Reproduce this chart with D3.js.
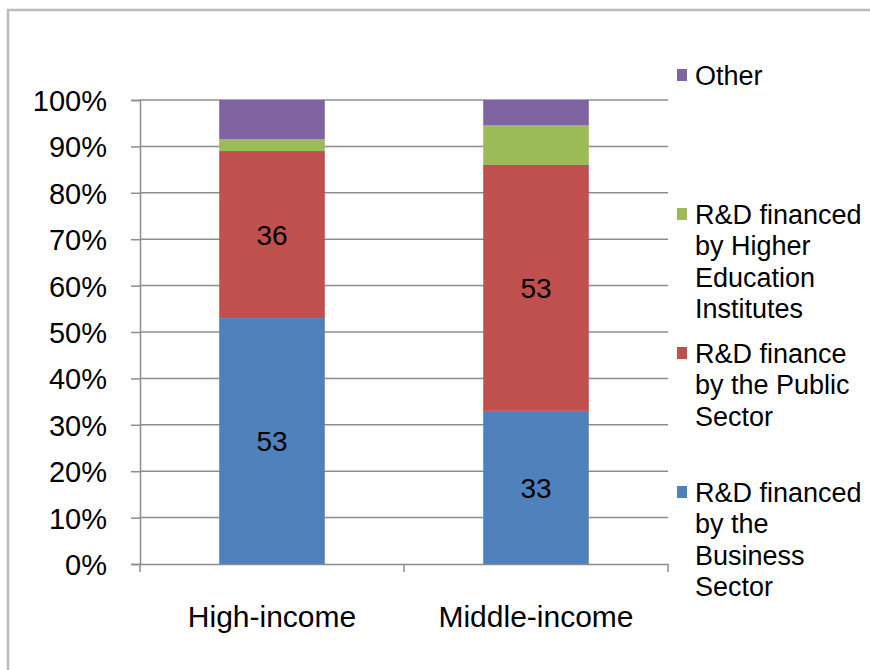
<!DOCTYPE html>
<html>
<head>
<meta charset="utf-8">
<script src="https://cdn.jsdelivr.net/npm/d3@7"></script>
<style>
  body { margin: 0; background: #fff; }
  text { font-family: "Liberation Sans", Arial, sans-serif; fill: #000; }
</style>
</head>
<body>
<script>
var categories = ["High-income", "Middle-income"];
var seriesNames = ["business", "public", "higher", "other"];
var business = [53, 33];
var publicSector = [36, 53];
var higherEd = [2.5, 8.5];
var other = [8.5, 5.5];
var yTicks = [0, 10, 20, 30, 40, 50, 60, 70, 80, 90, 100];
var colors = ["#4F81BD", "#C0504D", "#9BBB59", "#8064A2"];
// legend entries, top to bottom
var legendItems = [
  { key: "other", lines: ["Other"] },
  { key: "higher", lines: ["R&D financed", "by Higher", "Education", "Institutes"] },
  { key: "public", lines: ["R&D finance", "by the Public", "Sector"] },
  { key: "business", lines: ["R&D financed", "by the", "Business", "Sector"] }
];

var rows = categories.map(function(c, i) {
  return { cat: c, business: business[i], public: publicSector[i], higher: higherEd[i], other: other[i] };
});

var svg = d3.select("body").append("svg")
  .attr("width", 870)
  .attr("height", 670);

// outer frame
svg.append("rect")
  .attr("x", 8).attr("y", 10)
  .attr("width", 900).attr("height", 700)
  .style("fill", "none")
  .style("stroke", "#bcbcbc")
  .style("stroke-width", 2.5);

var plotLeft = 140, plotRight = 668, plotTop = 100, plotBottom = 564;
var gray = "#8c8c8c";

var x = d3.scaleBand()
  .domain(categories)
  .range([plotLeft, plotRight])
  .paddingInner(0.6)
  .paddingOuter(0.3);

var y = d3.scaleLinear()
  .domain([0, 100])
  .range([plotBottom, plotTop]);

var color = d3.scaleOrdinal().domain(seriesNames).range(colors);

// gridlines
svg.append("g").selectAll("line")
  .data(yTicks.filter(function(d) { return d > 0; }))
  .enter().append("line")
  .attr("x1", plotLeft).attr("x2", plotRight)
  .attr("y1", function(d) { return y(d); })
  .attr("y2", function(d) { return y(d); })
  .style("stroke", gray)
  .style("stroke-width", 1.5);

var stack = d3.stack().keys(seriesNames);
var layers = stack(rows);

svg.append("g").selectAll("g.layer")
  .data(layers)
  .enter().append("g")
  .attr("class", "layer")
  .style("fill", function(d) { return color(d.key); })
  .selectAll("rect")
  .data(function(d) { return d; })
  .enter().append("rect")
  .attr("x", function(d) { return x(d.data.cat); })
  .attr("width", x.bandwidth())
  .attr("y", function(d) { return y(d[1]); })
  .attr("height", function(d) { return y(d[0]) - y(d[1]); });

// data labels for business and public
layers.filter(function(l) { return l.key == "business" || l.key == "public"; })
  .forEach(function(l) {
    svg.append("g").selectAll("text")
      .data(l)
      .enter().append("text")
      .attr("x", function(d) { return x(d.data.cat) + x.bandwidth() / 2; })
      .attr("y", function(d) { return (y(d[0]) + y(d[1])) / 2; })
      .attr("dy", "0.36em")
      .attr("text-anchor", "middle")
      .style("font-size", "28px")
      .text(function(d) { return Math.round(d[1] - d[0]); });
  });

// y axis
var yAxis = svg.append("g")
  .attr("transform", "translate(" + plotLeft + ",0)")
  .call(d3.axisLeft(y).tickValues(yTicks).tickSize(9).tickPadding(24)
    .tickFormat(function(d) { return d + "%"; }));
yAxis.selectAll("text").style("font-size", "29px").attr("dy", "0.36em");

// x axis
var xAxis = svg.append("g")
  .attr("transform", "translate(0," + plotBottom + ")")
  .call(d3.axisBottom(x).tickSize(0).tickPadding(42));
xAxis.selectAll("text").style("font-size", "30px");
xAxis.append("g").selectAll("line")
  .data([plotLeft, (plotLeft + plotRight) / 2, plotRight])
  .enter().append("line")
  .attr("x1", function(d) { return d; }).attr("x2", function(d) { return d; })
  .attr("y1", 0).attr("y2", 8);

yAxis.select(".domain").style("stroke", gray).style("stroke-width", 1.5);
yAxis.selectAll(".tick line").style("stroke", gray).style("stroke-width", 1.5);
xAxis.select(".domain").style("stroke", gray).style("stroke-width", 1.5);
xAxis.selectAll("line").style("stroke", gray).style("stroke-width", 1.5);

// legend
var legendTops = [75, 214, 353, 492];
var lineH = 31.5;
var legend = svg.append("g");
legendItems.forEach(function(item, i) {
  var lg = legend.append("g").attr("transform", "translate(0," + legendTops[i] + ")");
  lg.append("rect")
    .attr("x", 677).attr("y", -6)
    .attr("width", 10).attr("height", 12)
    .style("fill", color(item.key));
  lg.selectAll("text")
    .data(item.lines)
    .enter().append("text")
    .attr("x", 695)
    .attr("y", function(d, j) { return j * lineH; })
    .attr("dy", "0.36em")
    .style("font-size", "27px")
    .text(function(d) { return d; });
});
</script>
</body>
</html>
